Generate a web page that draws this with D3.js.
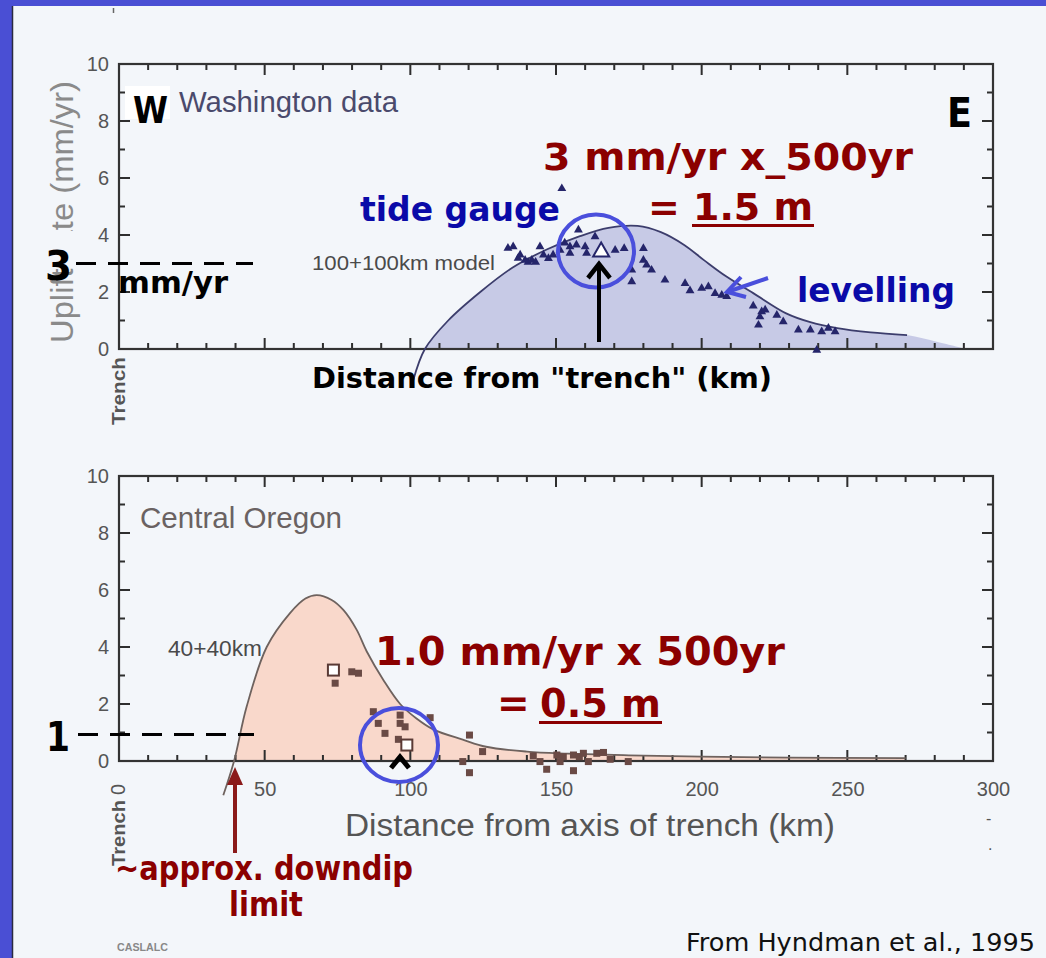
<!DOCTYPE html>
<html>
<head>
<meta charset="utf-8">
<script src="https://cdn.jsdelivr.net/npm/d3@7"></script>
<style>
  body { margin: 0; background: #f3f6fa; }
  svg { display: block; }
  .tick text { font-family: "Liberation Sans", Arial, sans-serif; fill: #555; }
</style>
</head>
<body>
<svg width="1046" height="958"></svg>
<script>
// axis ticks
var xMajor = [0, 50, 100, 150, 200, 250, 300];
var yMajor = [0, 2, 4, 6, 8, 10];

// Washington: 100+100km model curve
var waModelKm   = [101, 105, 113, 124, 135, 147, 158, 168, 178, 186, 194, 201, 208.5, 217.7, 229, 237, 246.5, 258, 270.5];
var waModelRate = [-1.1, 0, 1.0, 2.0, 2.85, 3.5, 3.95, 4.25, 4.32, 4.1, 3.65, 3.1, 2.54, 1.96, 1.25, 0.95, 0.73, 0.58, 0.49];
var waFillTailKm = [281, 291], waFillTailRate = [0.25, 0];

// Washington levelling (triangles)
var waLevelKm   = [152, 133.5, 135.3, 137, 137.7, 139.4, 140.4, 141.7, 143, 144.5, 145.7, 147.4, 149, 151.4, 153, 154.8, 154.8, 157, 157.7,
                   160, 160.5, 163.4, 170.3, 173.4, 176, 176, 180, 180, 181.1, 182.8, 187.4, 194.3, 196, 200, 202.3, 204.6, 206.9, 208.6,
                   217.7, 220.6, 221.8, 220, 219.5, 225.8, 228, 233.2, 237.3, 241.2, 243.5, 245.8, 239.5];
var waLevelRate = [5.63, 3.54, 3.59, 3.19, 3.3, 3.12, 3.05, 3.12, 3.05, 3.59, 3.3, 3.18, 3.3, 3.47, 3.72, 3.59, 3.36, 3.65, 4.18,
                   3.59, 3.36, 3.94, 3.47, 3.53, 2.77, 2.36, 3.53, 3.12, 2.95, 2.77, 2.42, 2.3, 2.05, 2.13, 2.19, 1.95, 1.89, 1.84,
                   1.51, 1.31, 1.37, 1.13, 0.84, 1.19, 0.96, 0.67, 0.67, 0.61, 0.73, 0.61, -0.04];
// tide gauge (open triangle)
var waTideKm = [165.5], waTideRate = [3.41];

// Central Oregon: 40+40km model curve
var orModelKm   = [35.8, 39.5, 43.8, 50.7, 58.7, 64, 67.9, 73, 77, 81.6, 85, 91, 96.5, 102, 108, 118, 126, 140, 154, 175, 200, 230, 270];
var orModelRate = [-1.2, 0, 1.9, 4.0, 5.19, 5.7, 5.82, 5.65, 5.3, 4.6, 3.85, 2.8, 2.0, 1.5, 1.1, 0.75, 0.5, 0.33, 0.26, 0.2, 0.15, 0.12, 0.1];

// Central Oregon sites (filled squares)
var orSiteKm   = [74.2, 79.9, 82.2, 87.3, 89, 91.3, 96.5, 96.5, 98.2, 95.9, 106.8, 120.3, 124.8, 118, 120.3,
                  142.2, 144.5, 146.8, 150.3, 151.4, 152.5, 156, 156, 158, 159.4, 161.1, 164, 166.3, 168.6, 174.8];
var orSiteRate = [2.73, 3.13, 3.08, 1.73, 1.32, 0.97, 1.61, 1.32, 1.2, 0.76, 1.52, 0.91, 0.33, -0.02, -0.41,
                  0.18, -0.02, -0.29, 0.21, -0.02, 0.15, -0.34, 0.21, 0.15, 0.27, -0.02, 0.27, 0.3, 0.06, -0.02];
// tide gauges (open squares)
var orTideKm = [73.6, 98.8], orTideRate = [3.19, 0.56];

var svg = d3.select("svg");

// slide frame
svg.append("rect").attr("x", 0).attr("y", 0).attr("width", 1046).attr("height", 958).attr("fill", "#f3f6fa");
svg.append("rect").attr("x", 0).attr("y", 0).attr("width", 1046).attr("height", 6).attr("fill", "#4a4fd4");
svg.append("rect").attr("x", 0).attr("y", 0).attr("width", 12).attr("height", 958).attr("fill", "#4a4fd4");
svg.append("line").attr("x1", 12.5).attr("x2", 12.5).attr("y1", 6).attr("y2", 958).attr("stroke", "#2a2a40").attr("stroke-width", 1.5);
svg.append("line").attr("x1", 113.5).attr("x2", 113.5).attr("y1", 8).attr("y2", 13).attr("stroke", "#666").attr("stroke-width", 1.5);

var x = d3.scaleLinear().domain([0, 300]).range([119, 993]);
var yTop = d3.scaleLinear().domain([0, 10]).range([349, 64]);
var yBot = d3.scaleLinear().domain([0, 10]).range([761, 476]);

function zip(a, b) { return a.map(function(v, i) { return [v, b[i]]; }); }

// inward ticks on all four sides, major ones longer
function frame(y) {
  var y0 = y.range()[0], y1 = y.range()[1];
  var x0 = x.range()[0], x1 = x.range()[1];
  var xt = d3.range(0, 301, 10), yt = d3.range(0, 11, 1);
  var p = d3.path();
  xt.forEach(function(d) {
    var l = d % 50 === 0 ? 11 : 6;
    p.moveTo(x(d), y0); p.lineTo(x(d), y0 - l);
    p.moveTo(x(d), y1); p.lineTo(x(d), y1 + l);
  });
  yt.forEach(function(d) {
    var l = d % 2 === 0 ? 11 : 6;
    p.moveTo(x0, y(d)); p.lineTo(x0 + l, y(d));
    p.moveTo(x1, y(d)); p.lineTo(x1 - l, y(d));
  });
  svg.append("path").attr("d", p.toString())
    .attr("fill", "none").attr("stroke", "#2e2e2e").attr("stroke-width", 2);
  svg.append("rect").attr("x", x0).attr("y", y1).attr("width", x1 - x0).attr("height", y0 - y1)
    .attr("fill", "none").attr("stroke", "#333").attr("stroke-width", 2.2);
  // y labels
  var yl = svg.append("g").attr("transform", "translate(" + x0 + ",0)")
    .call(d3.axisLeft(y).tickValues(yMajor).tickSize(0).tickPadding(10));
  yl.select(".domain").remove();
  yl.selectAll("text").attr("font-size", 20).attr("fill", "#555");
}

var curve = d3.curveCatmullRom.alpha(0.5);

// ---------- top panel: Washington ----------
svg.append("clipPath").attr("id", "clipTop").append("rect")
  .attr("x", 119).attr("y", 64).attr("width", 874).attr("height", 349 - 64);
svg.append("clipPath").attr("id", "clipBot").append("rect")
  .attr("x", 119).attr("y", 476).attr("width", 874).attr("height", 761 - 476);

var topData = zip(waModelKm, waModelRate);
svg.append("path").datum(topData.concat(zip(waFillTailKm, waFillTailRate)))
  .attr("clip-path", "url(#clipTop)")
  .attr("d", d3.area().x(function(d) { return x(d[0]); }).y0(yTop(0)).y1(function(d) { return yTop(d[1]); }).curve(curve))
  .attr("fill", "#c7cae6");

frame(yTop);

svg.append("path").datum(topData)
  .attr("d", d3.line().x(function(d) { return x(d[0]); }).y(function(d) { return yTop(d[1]); }).curve(curve))
  .attr("fill", "none").attr("stroke", "#3c3d6c").attr("stroke-width", 1.8);

svg.append("g").selectAll("path").data(zip(waLevelKm, waLevelRate)).join("path")
  .attr("transform", function(d) { return "translate(" + x(d[0]) + "," + yTop(d[1]) + ")"; })
  .attr("d", d3.symbol(d3.symbolTriangle).size(34))
  .attr("fill", "#25256a");
svg.append("g").selectAll("path").data(zip(waTideKm, waTideRate)).join("path")
  .attr("transform", function(d) { return "translate(" + x(d[0]) + "," + yTop(d[1]) + ")"; })
  .attr("d", d3.symbol(d3.symbolTriangle).size(110))
  .attr("fill", "#fff").attr("stroke", "#25256a").attr("stroke-width", 2);

// ---------- bottom panel: Central Oregon ----------
var botData = zip(orModelKm, orModelRate);
svg.append("path").datum(botData)
  .attr("clip-path", "url(#clipBot)")
  .attr("d", d3.area().x(function(d) { return x(d[0]); }).y0(yBot(0)).y1(function(d) { return yBot(d[1]); }).curve(curve))
  .attr("fill", "#f9d8cb");

frame(yBot);

svg.append("path").datum(botData)
  .attr("d", d3.line().x(function(d) { return x(d[0]); }).y(function(d) { return yBot(d[1]); }).curve(curve))
  .attr("fill", "none").attr("stroke", "#6e625e").attr("stroke-width", 1.8);

svg.append("g").selectAll("rect").data(zip(orSiteKm, orSiteRate)).join("rect")
  .attr("x", function(d) { return x(d[0]) - 3.5; }).attr("y", function(d) { return yBot(d[1]) - 3.5; })
  .attr("width", 7).attr("height", 7).attr("fill", "#6a4a45");
svg.append("g").selectAll("rect").data(zip(orTideKm, orTideRate)).join("rect")
  .attr("x", function(d) { return x(d[0]) - 5.5; }).attr("y", function(d) { return yBot(d[1]) - 5.5; })
  .attr("width", 11).attr("height", 11).attr("fill", "#fff").attr("stroke", "#5a3a35").attr("stroke-width", 2);

// bottom x tick labels
var xl = svg.append("g").attr("transform", "translate(0,761)")
  .call(d3.axisBottom(x).tickValues(xMajor.slice(1)).tickSize(0).tickPadding(21));
xl.select(".domain").remove();
xl.selectAll("text").attr("font-size", 20).attr("fill", "#555");

// ---------- chart texts ----------
function txt(t, px, py, size, opts) {
  opts = opts || {};
  var e = svg.append("text").attr("x", px).attr("y", py).attr("font-size", size)
    .attr("font-family", opts.family || "'Liberation Sans', Arial, sans-serif")
    .attr("font-weight", opts.weight || "normal")
    .attr("fill", opts.fill || "#000")
    .text(t);
  if (opts.anchor) e.attr("text-anchor", opts.anchor);
  if (opts.len) e.attr("textLength", opts.len).attr("lengthAdjust", "spacingAndGlyphs");
  if (opts.rot) e.attr("transform", "rotate(-90," + px + "," + py + ")");
  return e;
}

txt("Uplift rate (mm/yr)", 73, 212, 31, { fill: "#8a8a8a", anchor: "middle", rot: true, len: 262 });
txt("Trench", 125, 425, 19, { fill: "#555", weight: "bold", rot: true, len: 68 });
txt("Trench", 125, 866, 19, { fill: "#555", weight: "bold", rot: true, len: 66 });
txt("0", 125, 795, 20, { fill: "#555", rot: true });
txt("Washington data", 179, 112, 29, { fill: "#4a4a6c", len: 219 });
txt("100+100km model", 312, 270, 21, { fill: "#4a4a4a", len: 183 });
txt("Central Oregon", 140, 528, 29, { fill: "#6a6262", len: 202 });
txt("40+40km", 168, 656, 22, { fill: "#4a4a4a", len: 94 });
txt("Distance from axis of trench (km)", 345, 836, 31, { fill: "#555", len: 490 });
txt("CASLALC", 117, 951, 10, { fill: "#888", weight: "bold", len: 51 });
txt("From Hyndman et al., 1995", 686, 951, 25, { family: "'DejaVu Sans', sans-serif", fill: "#111", len: 349 });
txt("-", 986, 824, 16, { fill: "#555" });
txt(".", 988, 850, 16, { fill: "#555" });

// ---------- annotations ----------
function a(t, px, py, size, fill, len) {
  return txt(t, px, py, size, { family: "'DejaVu Sans', sans-serif", weight: "bold", fill: fill, len: len });
}

svg.append("rect").attr("x", 125).attr("y", 86).attr("width", 45).attr("height", 33).attr("fill", "#fff");
a("W", 133, 123, 38, "#000", 35);
a("E", 947, 127, 40, "#000", 25);

a("3 mm/yr x_500yr", 543, 170, 38, "#8b0000", 370);
a("=", 648, 220, 38, "#8b0000");
a("1.5 m", 693, 220, 38, "#8b0000", 120);
svg.append("line").attr("x1", 692).attr("x2", 814).attr("y1", 225.5).attr("y2", 225.5).attr("stroke", "#8b0000").attr("stroke-width", 3);

a("tide gauge", 360, 221, 33, "#0a0aa8", 200);
a("levelling", 797, 302, 33, "#0a0aa8", 158);

svg.append("rect").attr("x", 44).attr("y", 231).attr("width", 32).attr("height", 29).attr("fill", "#f3f6fa");
a("3", 45, 280, 40, "#000", 27);
svg.append("line").attr("x1", 76).attr("x2", 253).attr("y1", 263.5).attr("y2", 263.5)
  .attr("stroke", "#000").attr("stroke-width", 3).attr("stroke-dasharray", "20,12");
a("mm/yr", 118, 293, 30, "#000", 110);

a("Distance from \"trench\" (km)", 312, 388, 29, "#000", 460);

// tide gauge circle + arrow (top)
svg.append("ellipse").attr("cx", 596).attr("cy", 251).attr("rx", 38).attr("ry", 36.5)
  .attr("fill", "none").attr("stroke", "#4a4fdc").attr("stroke-width", 4);
svg.append("line").attr("x1", 599).attr("x2", 599).attr("y1", 342).attr("y2", 265)
  .attr("stroke", "#000").attr("stroke-width", 4);
svg.append("polyline").attr("points", "588,278 599,264 610,278")
  .attr("fill", "none").attr("stroke", "#000").attr("stroke-width", 4.5);

// levelling arrow
svg.append("line").attr("x1", 768).attr("x2", 730).attr("y1", 278).attr("y2", 291)
  .attr("stroke", "#4a4fdc").attr("stroke-width", 4);
svg.append("polyline").attr("points", "741,277 727,292 746,297")
  .attr("fill", "none").attr("stroke", "#4a4fdc").attr("stroke-width", 4);

// bottom annotations
a("1.0 mm/yr x 500yr", 375, 665, 39, "#8b0000", 410);
a("=", 497, 717, 39, "#8b0000");
a("0.5 m", 540, 717, 39, "#8b0000", 121);
svg.append("line").attr("x1", 539).attr("x2", 662).attr("y1", 722.5).attr("y2", 722.5).attr("stroke", "#8b0000").attr("stroke-width", 3);

a("1", 46, 751, 40, "#000", 24);
svg.append("line").attr("x1", 78).attr("x2", 254).attr("y1", 734.5).attr("y2", 734.5)
  .attr("stroke", "#000").attr("stroke-width", 3).attr("stroke-dasharray", "20,12");

svg.append("ellipse").attr("cx", 399).attr("cy", 745).attr("rx", 39).attr("ry", 37)
  .attr("fill", "none").attr("stroke", "#4a4fdc").attr("stroke-width", 4);
svg.append("polyline").attr("points", "391,768 400,757 409,768")
  .attr("fill", "none").attr("stroke", "#000").attr("stroke-width", 5);

// downdip arrow
svg.append("line").attr("x1", 235).attr("x2", 235).attr("y1", 853).attr("y2", 780)
  .attr("stroke", "#8b1a1a").attr("stroke-width", 4);
svg.append("polygon").attr("points", "227,785 235,767 243,785").attr("fill", "#8b1a1a");
a("~approx. downdip", 115, 880, 33, "#8b0000", 298);
a("limit", 229, 916, 33, "#8b0000", 74);
</script>
</body>
</html>
